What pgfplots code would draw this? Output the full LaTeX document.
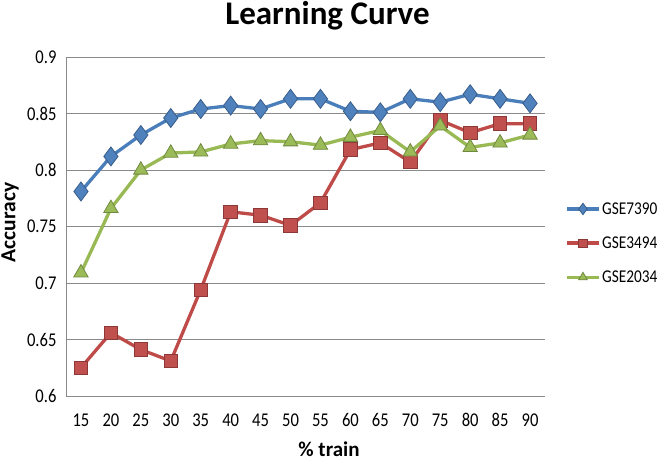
\documentclass[border=0pt]{standalone}
\usepackage{fontspec}
\setmainfont{Carlito}
\newfontfamily\condfont{Carlito}[FakeStretch=0.85]
\usepackage{pgfplots}
\pgfplotsset{compat=1.18}
\usepackage{pgfplotstable}
\definecolor{bline}{HTML}{4A7EBB}
\definecolor{bfill}{HTML}{4F81BD}
\definecolor{bdraw}{HTML}{385D8A}
\definecolor{rline}{HTML}{BE4B48}
\definecolor{rfill}{HTML}{C0504D}
\definecolor{rdraw}{HTML}{8C3836}
\definecolor{gline}{HTML}{98B954}
\definecolor{gfill}{HTML}{9BBB59}
\definecolor{gdraw}{HTML}{71893F}
\definecolor{gridc}{HTML}{8A8A8A}
\pgfplotstableread{
x    a      b      c
15   0.781  0.625  0.709
20   0.812  0.656  0.766
25   0.831  0.641  0.800
30   0.846  0.631  0.815
35   0.854  0.694  0.816
40   0.857  0.763  0.823
45   0.854  0.760  0.826
50   0.863  0.751  0.825
55   0.863  0.771  0.822
60   0.852  0.818  0.829
65   0.851  0.824  0.835
70   0.863  0.807  0.816
75   0.860  0.844  0.839
80   0.867  0.833  0.820
85   0.863  0.841  0.824
90   0.859  0.841  0.831
}\datatable
\begin{document}
\begin{tikzpicture}
\path[use as bounding box] (0,0) rectangle (667bp,463bp);
\begin{axis}[
  at={(66bp,67bp)}, anchor=south west,
  scale only axis, width=479bp, height=339bp,
  xmin=12.5, xmax=92.5, ymin=0.6, ymax=0.9,
  xtick={15,20,...,90},
  xticklabels={15,20,25,30,35,40,45,50,55,60,65,70,75,80,85,90},
  ytick={0.6,0.65,0.7,0.75,0.8,0.85,0.9},
  yticklabels={0.6,0.65,0.7,0.75,0.8,0.85,0.9},
  axis lines=left, axis line style={-, draw=gridc, line width=0.9bp},
  ymajorgrids, major grid style={draw=gridc, line width=0.9bp},
  major tick length=0pt,
  tick label style={font=\condfont\fontsize{19.5bp}{22bp}\selectfont},
  xticklabel style={yshift=-14bp},
  yticklabel style={xshift=-6bp},
  clip=false,
  legend style={at={(1.042,0.451)}, anchor=west, draw=none, fill=none,
    font=\condfont\fontsize{18bp}{20bp}\selectfont, row sep=18bp, inner sep=0pt,
    nodes={inner sep=1.5bp}},
  legend cell align=left,
  legend image code/.code={\draw[mark repeat=2,mark phase=2,every mark/.append style={scale=0.6}]
    plot coordinates {(0bp,0bp) (16bp,0bp) (32bp,0bp)};},
]
\addplot[color=bline, line width=3.3bp, mark=diamond*, mark size=9.5bp,
  mark options={fill=bfill, draw=bdraw, line width=0.8bp}] table[x=x,y=a]{\datatable};
\addlegendentry{GSE7390}
\addplot[color=rline, line width=3.3bp, mark=square*, mark size=6.8bp,
  mark options={fill=rfill, draw=rdraw, line width=0.8bp}] table[x=x,y=b]{\datatable};
\addlegendentry{GSE3494}
\addplot[color=gline, line width=3.3bp, mark=triangle*, mark size=8.3bp,
  mark options={fill=gfill, draw=gdraw, line width=0.8bp}] table[x=x,y=c]{\datatable};
\addlegendentry{GSE2034}
\end{axis}
\node[font=\bfseries\fontsize{33bp}{38bp}\selectfont] at (327.5bp,447bp) {Learning Curve};
\node[font=\bfseries\fontsize{21.5bp}{24bp}\selectfont, rotate=90] at (10bp,240.5bp) {Accuracy};
\node[font=\bfseries\fontsize{21bp}{24bp}\selectfont] at (329bp,14bp) {\% train};
\end{tikzpicture}
\end{document}
